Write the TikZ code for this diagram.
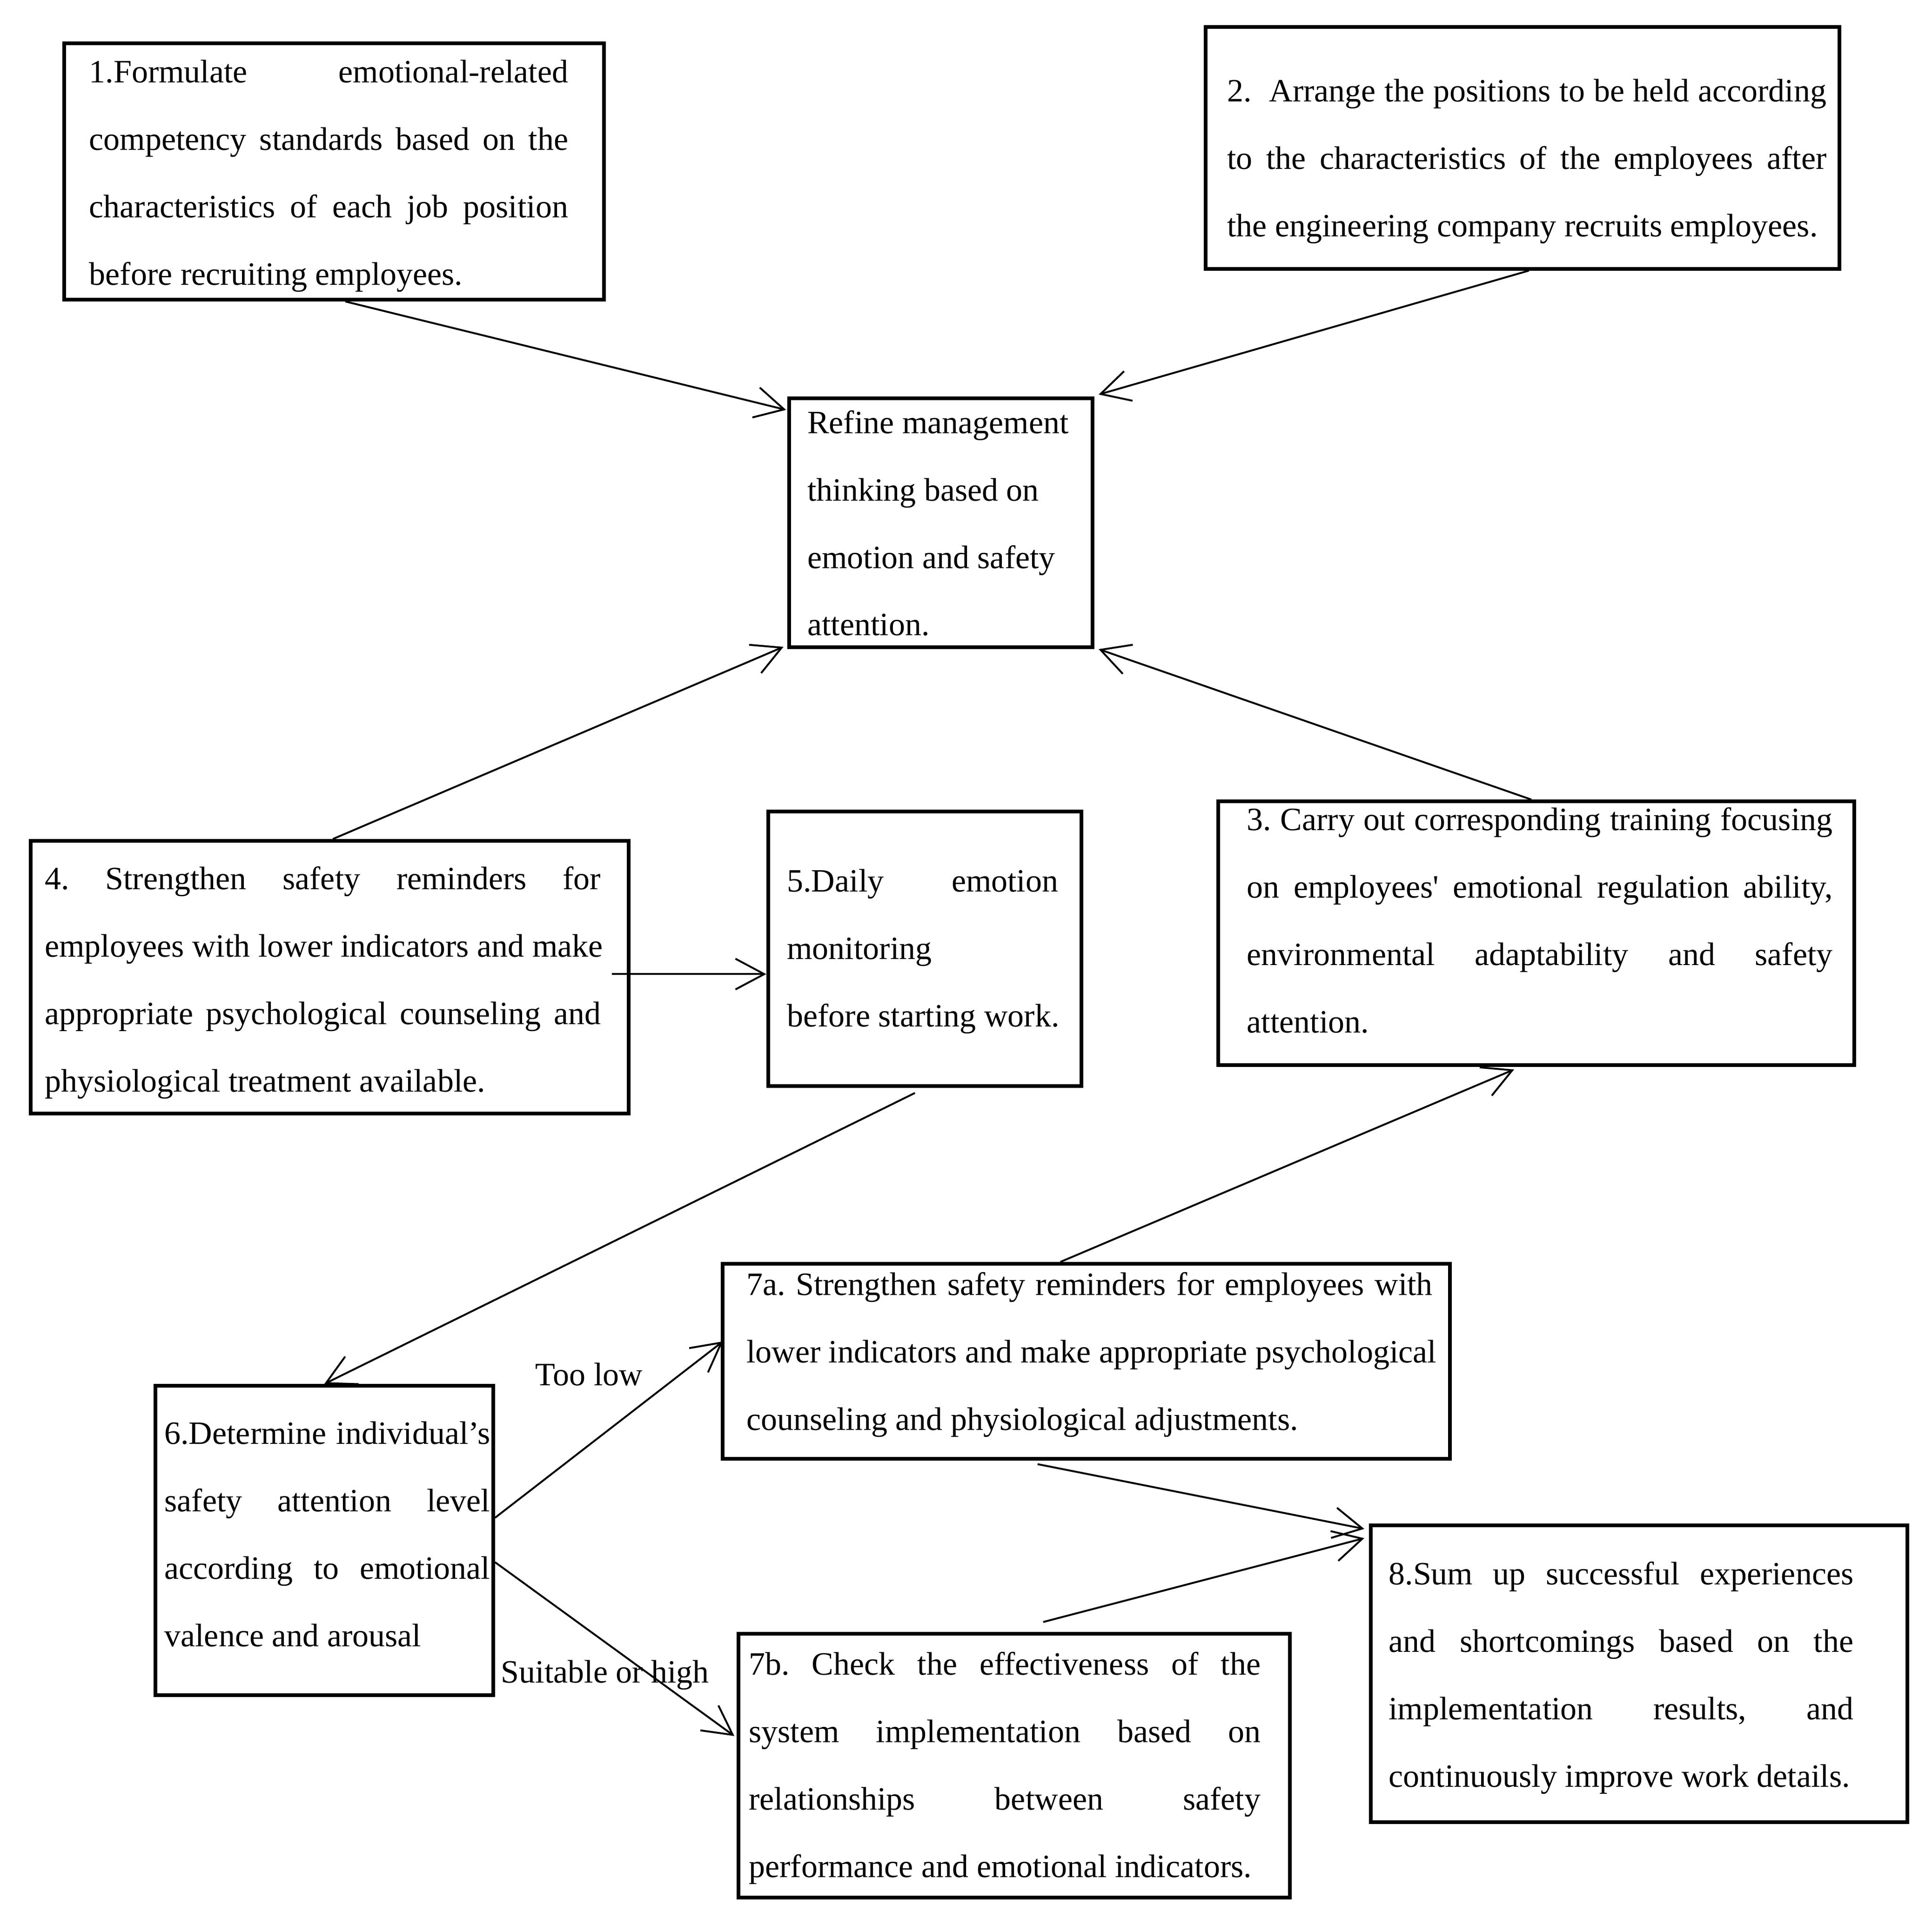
\documentclass[tikz,border=0pt]{standalone}
\usepackage{fontspec}
\setmainfont{Liberation Serif}
\usetikzlibrary{arrows.meta,fit}
\newcommand\jl[1]{\leavevmode\hbox to\hsize{\frenchspacing\spaceskip=\fontdimen2\font plus 1fil\relax\xspaceskip=\spaceskip #1}}
\newcommand\pl[1]{\leavevmode\mbox{\spaceskip=0pt\relax #1}}
\newcommand\fl{\spaceskip=0pt\xspaceskip=0pt\parindent=0pt\relax\noindent\rule{0pt}{10pt}}
\newcommand\txtfont{\fontsize{14pt}{29pt}\selectfont\frenchspacing\hyphenpenalty=10000\relax\parindent=0pt\relax}
\begin{document}
\begin{tikzpicture}[x=0.53pt,y=-0.53pt,
  box/.style={draw, line width=1.6pt, inner sep=0pt},
  txt/.style={inner sep=0pt, anchor=north west, yshift=10pt, text width=#1, font=\txtfont},
  arr/.style={-{Straight Barb[length=12.4pt,width=13.2pt]}, line width=0.8pt},
  lbl/.style={inner sep=0pt, anchor=base west, font=\txtfont}]
\fill[white] (0,0) rectangle (1567,1567);
\useasboundingbox (0,0) rectangle (1567,1567);

% boxes
\node[box, fit={(52,35) (490,243)}] (b1) {};
\node[box, fit={(978,22) (1492,218)}] (b2) {};
\node[box, fit={(640,323) (886,525)}] (R) {};
\node[box, fit={(25,682) (510,903)}] (b4) {};
\node[box, fit={(623,658) (877,881)}] (b5) {};
\node[box, fit={(988,650) (1504,864)}] (b3) {};
\node[box, fit={(586,1025) (1176,1183)}] (b7a) {};
\node[box, fit={(126,1124) (400,1375)}] (b6) {};
\node[box, fit={(1112,1237) (1547,1478)}] (b8) {};
\node[box, fit={(599,1325) (1046,1539)}] (b7b) {};

% texts
\node[txt=205.9pt] (t1) at (72,66.6) {\fl\jl{1.Formulate emotional-related}\\
\jl{competency standards based on the}\\
\jl{characteristics of each job position}\\
\pl{before recruiting employees.}};

\node[txt=257.6pt] (t2) at (995,82) {\fl\jl{2.\ \ Arrange the positions to be held according}\\
\jl{to the characteristics of the employees after}\\
\pl{the engineering company recruits employees.}};

\node[txt=122pt] (tr) at (654.5,351) {\fl\pl{Refine management}\\
\pl{thinking based on}\\
\pl{emotion and safety}\\
\pl{attention.}};

\node[txt=239pt] (t4) at (36,721) {\fl\jl{4. Strengthen safety reminders for}\\
\jl{employees with lower indicators and make}\\
\jl{appropriate psychological counseling and}\\
\pl{physiological treatment available.}};

\node[txt=116.6pt] (t5) at (638,723) {\fl\jl{5.Daily emotion}\\
\pl{monitoring}\\
\pl{before starting work.}};

\node[txt=251.75pt] (t3) at (1011,673) {\fl\jl{3. Carry out corresponding training focusing}\\
\jl{on employees\textquotesingle{} emotional regulation ability,}\\
\jl{environmental adaptability and safety}\\
\pl{attention.}};

\node[txt=295pt] (t7a) at (605,1050) {\fl\jl{7a. Strengthen safety reminders for employees with}\\
\jl{lower indicators and make appropriate psychological}\\
\pl{counseling and physiological adjustments.}};

\node[txt=140pt] (t6) at (133,1171) {\fl\jl{6.Determine individual’s}\\
\jl{safety attention level}\\
\jl{according to emotional}\\
\pl{valence and arousal}};

\node[txt=199.8pt] (t8) at (1126,1285) {\fl\jl{8.Sum up successful experiences}\\
\jl{and shortcomings based on the}\\
\jl{implementation results, and}\\
\pl{continuously improve work details.}};

\node[txt=220pt] (t7b) at (607,1358) {\fl\jl{7b. Check the effectiveness of the}\\
\jl{system implementation based on}\\
\jl{relationships between safety}\\
\pl{performance and emotional indicators.}};

% labels
\node[lbl] (low) at (434,1123.6) {Too low};
\node[lbl] (high) at (406,1365) {Suitable or high};

% connectors
\draw[arr] ([xshift=4.8pt]b1.south) -- ([xshift=-0.5pt,yshift=-5.8pt]R.north west);
\draw[arr] ([xshift=2.65pt]b2.south) -- ([xshift=1.9pt,yshift=0.8pt]R.north east);
\draw[arr] ([xshift=1.3pt]b4.north) -- ([xshift=-1.6pt,yshift=1pt]R.south west);
\draw[arr] ([xshift=-2.1pt]b3.north) -- ([xshift=1.9pt]R.south east);
\coordinate (a45) at ([xshift=-8pt,yshift=1.3pt]b4.east);
\draw[arr] (a45) -- (a45 -| b5.west);
\draw[arr] ([xshift=-4.2pt,yshift=-2.1pt]b5.south) -- (b6.north);
\draw[arr] ([xshift=-11.1pt]b7a.north) -- ([xshift=-9.5pt,yshift=-1pt]b3.south);
\draw[arr] ([yshift=9.8pt]b6.east) -- ([xshift=1pt,yshift=8.5pt]b7a.west);
\draw[arr] ([yshift=-9.3pt]b6.east) -- ([xshift=-1pt,yshift=12.7pt]b7b.west);
\draw[arr] ([xshift=-20.9pt,yshift=-1.6pt]b7a.south) -- ([xshift=-2.1pt,yshift=-2.4pt]b8.north west);
\draw[arr] ([xshift=12.5pt,yshift=4.2pt]b7b.north) -- ([xshift=-2.1pt,yshift=-6.4pt]b8.north west);
\end{tikzpicture}
\end{document}
